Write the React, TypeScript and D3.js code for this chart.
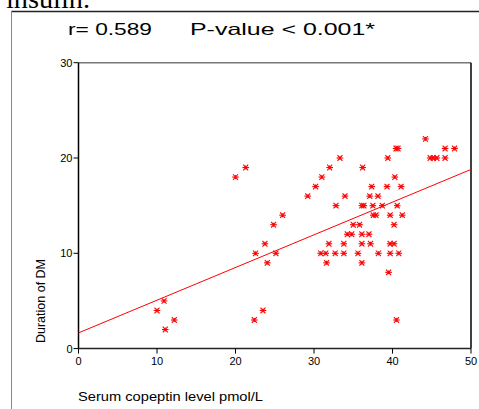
import React from "react";
import * as d3 from "d3";

const copeptin: number[] = [
  44.2, 40.45, 40.7, 46.7, 47.9,
  33.3, 39.4, 44.8, 45.2, 45.65, 46.7,
  32.0, 36.2, 21.3,
  31.0, 40.3, 20.0,
  30.2, 37.35, 39.3, 41.1,
  29.2, 33.95, 37.1, 38.15,
  32.8, 36.1, 36.35, 37.5, 38.7, 40.6,
  26.0, 37.55, 37.9, 39.7, 41.25,
  24.85, 35.0, 35.8, 40.2,
  34.25, 34.8, 36.1, 37.0,
  23.75, 31.9, 33.8, 36.1, 37.2, 39.7, 40.2,
  22.55, 25.15, 30.85, 31.5, 32.7, 33.8, 35.6, 38.2, 39.7, 40.8,
  24.05, 31.6, 36.1,
  39.5,
  10.9,
  10.0, 23.5,
  12.2, 22.4, 40.5,
  11.05,
];
const durationDM: number[] = [
  22, 21, 21, 21, 21,
  20, 20, 20, 20, 20, 20,
  19, 19, 19,
  18, 18, 18,
  17, 17, 17, 17,
  16, 16, 16, 16,
  15, 15, 15, 15, 15, 15,
  14, 14, 14, 14, 14,
  13, 13, 13, 13,
  12, 12, 12, 12,
  11, 11, 11, 11, 11, 11, 11,
  10, 10, 10, 10, 10, 10, 10, 10, 10, 10,
  9, 9, 9,
  8,
  5,
  4, 4,
  3, 3, 3,
  2,
];
const xTicks: number[] = [0, 10, 20, 30, 40, 50];
const yTicks: number[] = [0, 10, 20, 30];
const fitIntercept = 1.65;
const fitSlope = 0.343;
const titleR = "r= 0.589";
const titleP = "P-value < 0.001*";
const xLabel = "Serum copeptin level pmol/L";
const yLabel = "Duration of DM";
const aboveText = "insulin.";

export default function App() {
  const W = 479, H = 409;
  const x = d3.scaleLinear().domain([0, 50]).range([78.5, 471]);
  const y = d3.scaleLinear().domain([0, 30]).range([348.6, 62.7]);
  const red = "#ff0000";
  const font = "Liberation Sans, Arial, sans-serif";
  const r = 3.3;
  const pts = copeptin.map((c, i) => [x(c), y(durationDM[i])]);
  const line = d3.line<number>().x((v) => x(v)).y((v) => y(fitIntercept + fitSlope * v));
  return (
    <svg width={W} height={H} style={{ position: "absolute", left: 0, top: 0, background: "#fff" }}>
      <rect x={0} y={0} width={W} height={H} fill="#fff" />
      <text x={6} y={8} fontFamily="Liberation Serif, Times New Roman, serif" fontSize={28} fill="#000" textLength={84} lengthAdjust="spacingAndGlyphs">{aboveText}</text>
      <line x1={11} y1={11.5} x2={W} y2={11.5} stroke="#222" strokeWidth={1.5} />
      <line x1={11.5} y1={11} x2={11.5} y2={H} stroke="#888" strokeWidth={1} />
      <text x={68} y={35} fontFamily={font} fontSize={16.5} fill="#000" textLength={84} lengthAdjust="spacingAndGlyphs">{titleR}</text>
      <text x={190} y={35} fontFamily={font} fontSize={16.5} fill="#000" textLength={185} lengthAdjust="spacingAndGlyphs">{titleP}</text>
      {/* frame */}
      <line x1={x(0)} y1={y(30)} x2={x(50)} y2={y(30)} stroke="#777" strokeWidth={1.5} />
      <line x1={x(50)} y1={y(30)} x2={x(50)} y2={y(0)} stroke="#000" strokeWidth={1.5} />
      <line x1={x(0)} y1={y(30)} x2={x(0)} y2={y(0)} stroke="#000" strokeWidth={1.5} />
      <line x1={x(0)} y1={y(0)} x2={x(50)} y2={y(0)} stroke="#222" strokeWidth={1.5} />
      {yTicks.map((t) => (
        <g key={"y" + t}>
          <line x1={x(0) - 5} x2={x(0)} y1={y(t)} y2={y(t)} stroke="#000" />
          <text x={x(0) - 6} y={y(t) + 4} textAnchor="end" fontFamily={font} fontSize={11} fill="#000">{t}</text>
        </g>
      ))}
      {xTicks.map((t) => (
        <g key={"x" + t}>
          <line x1={x(t)} x2={x(t)} y1={y(0)} y2={y(0) + 5} stroke="#000" />
          <text x={x(t)} y={y(0) + 16} textAnchor="middle" fontFamily={font} fontSize={11} fill="#000">{t}</text>
        </g>
      ))}
      <text transform={`translate(45,${301}) rotate(-90)`} textAnchor="middle" fontFamily={font} fontSize={12.5} fill="#000">{yLabel}</text>
      <text x={78} y={401} fontFamily={font} fontSize={13.5} fill="#000" textLength={185} lengthAdjust="spacingAndGlyphs">{xLabel}</text>
      <path d={line([0, 50]) || ""} stroke={red} strokeWidth={1} fill="none" />
      {pts.map(([px, py], i) => (
        <g key={i} stroke={red} strokeWidth={1.1}>
          <line x1={px - r} x2={px + r} y1={py} y2={py} />
          <line x1={px - r * 0.75} x2={px + r * 0.75} y1={py - r * 0.85} y2={py + r * 0.85} />
          <line x1={px - r * 0.75} x2={px + r * 0.75} y1={py + r * 0.85} y2={py - r * 0.85} />
          <line x1={px} x2={px} y1={py - r * 0.6} y2={py + r * 0.6} />
        </g>
      ))}
    </svg>
  );
}
